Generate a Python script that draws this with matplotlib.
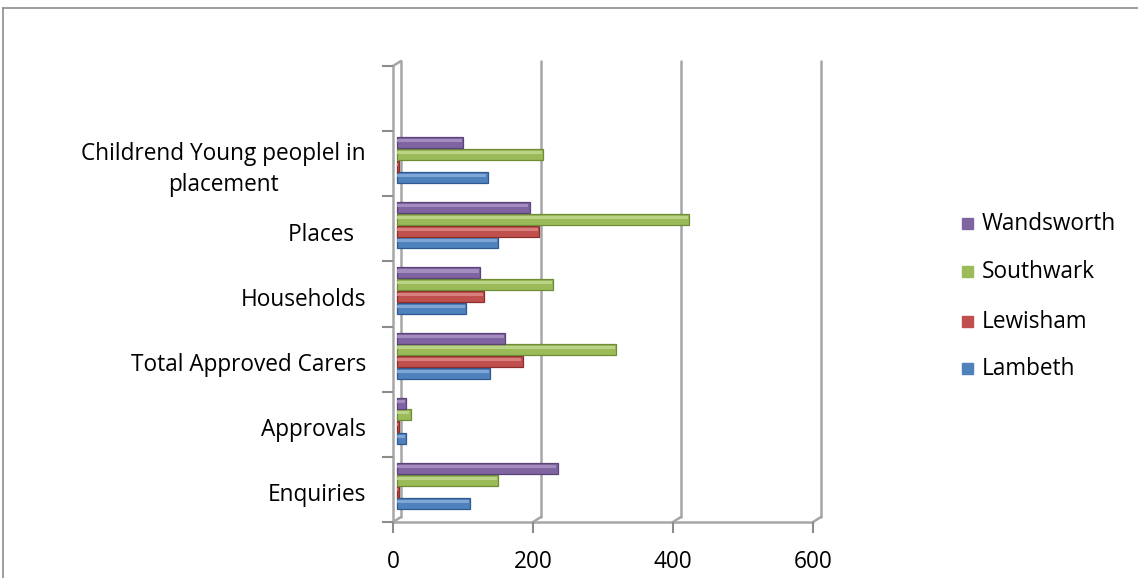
import matplotlib
matplotlib.use("Agg")
import matplotlib.pyplot as plt
import matplotlib.transforms as mtransforms
import numpy as np

categories = ["Enquiries", "Approvals", "Total Approved Carers", "Households",
              "Places  ", "Childrend Young peoplel in\nplacement", ""]
series_names = ["Lambeth", "Lewisham", "Southwark", "Wandsworth"]
lambeth = [105, 14, 134, 99, 145, 130, None]
lewisham = [4, 4, 180, 125, 204, 4, None]
southwark = [145, 20, 314, 224, 418, 209, None]
wandsworth = [230, 14, 155, 119, 190, 95, None]
series_values = [lambeth, lewisham, southwark, wandsworth]
colors = ["#4F81BD", "#C0504D", "#9BBB59", "#8064A2"]
edge_colors = ["#2f5a8f", "#8c2f2c", "#6f8b37", "#5a4478"]
highlight = ["#8db0dc", "#de8b88", "#c3da92", "#ac97c6"]
x_ticks = [0, 200, 400, 600]

plt.rcParams["font.family"] = ["Open Sans", "DejaVu Sans"]
FS = 16.3

W, H = 1138, 578
fig = plt.figure(figsize=(W / 100, H / 100), dpi=100)

# chart frame
fig.add_artist(plt.Line2D([3 / W, 3 / W], [0, 1 - 8 / H], color="#8c8c8c", lw=1.2))
fig.add_artist(plt.Line2D([3 / W, 1], [1 - 8 / H, 1 - 8 / H], color="#8c8c8c", lw=1.2))

left, right, top, bottom = 393, 813, 66, 522
ax = fig.add_axes([left / W, 1 - bottom / H, (right - left) / W, (bottom - top) / H])
ax.set_xlim(0, 600)
ax.set_ylim(-0.5, 6.5)
for s in ax.spines.values():
    s.set_visible(False)

# depth offset of the back wall, in data units
px_x = 600 / (right - left)
px_y = 7 / (bottom - top)
dx, dy = 8 * px_x, 5 * px_y

grid_kw = dict(color="#a6a6a6", lw=1.8, clip_on=False, solid_capstyle="round", zorder=1)
for v in x_ticks:
    ax.plot([v + dx, v + dx], [-0.5 + dy, 6.5 + dy], **grid_kw)
    ax.plot([v, v + dx], [-0.5, -0.5 + dy], **grid_kw)
# floor front edge and left wall
ax.plot([0, 600], [-0.5, -0.5], **grid_kw)
ax.plot([0, 0], [-0.5, 6.5], **grid_kw)
ax.plot([0, dx], [6.5, 6.5 + dy], **grid_kw)

# bars, pushed half way into the depth
bar_tr = mtransforms.offset_copy(ax.transData, fig=fig, x=3.5, y=3.5, units="dots")
step = 11.7 * px_y
bh = 11.0 * px_y
ypos = np.arange(len(categories))
for k, (vals, c, ec, hc) in enumerate(zip(series_values, colors, edge_colors, highlight)):
    y = ypos + (k - 1.5) * step
    for yi, v in zip(y, vals):
        if v is None:
            continue
        ax.barh(yi, v, height=bh, color=c, edgecolor=ec, lw=0.9, transform=bar_tr,
                zorder=3, clip_on=False)
        ax.barh(yi + bh * 0.18, max(v - 2, 0.5), left=0.5, height=bh * 0.28, color=hc,
                lw=0, transform=bar_tr, zorder=4, clip_on=False, alpha=0.8)

# ticks
ax.set_xticks(x_ticks)
ax.set_xticklabels([str(t) for t in x_ticks], fontsize=FS)
ax.tick_params(axis="x", length=8, width=1.5, color="#8c8c8c", pad=12)
ax.set_yticks(np.arange(-0.5, 7.0, 1.0), minor=False)
ax.set_yticklabels([])
ax.tick_params(axis="y", length=8, width=1.5, color="#8c8c8c")
label_tr = mtransforms.offset_copy(ax.transData, fig=fig, x=0, y=-6, units="dots")
for i, name in enumerate(categories):
    ax.text(-27 * px_x, i, name, ha="right", va="center", multialignment="center",
            fontsize=FS, transform=label_tr, linespacing=1.4)

# legend
leg_y = [224, 272, 322, 369]
for name, c, yy in zip(series_names[::-1], colors[::-1], leg_y):
    fig.patches.append(plt.Rectangle((962 / W, 1 - (yy + 5) / H), 11 / W, 11 / H,
                                     color=c, transform=fig.transFigure))
    fig.text(982 / W, 1 - yy / H, name, fontsize=FS, va="center", ha="left")

fig.savefig("out.png", dpi=100)
